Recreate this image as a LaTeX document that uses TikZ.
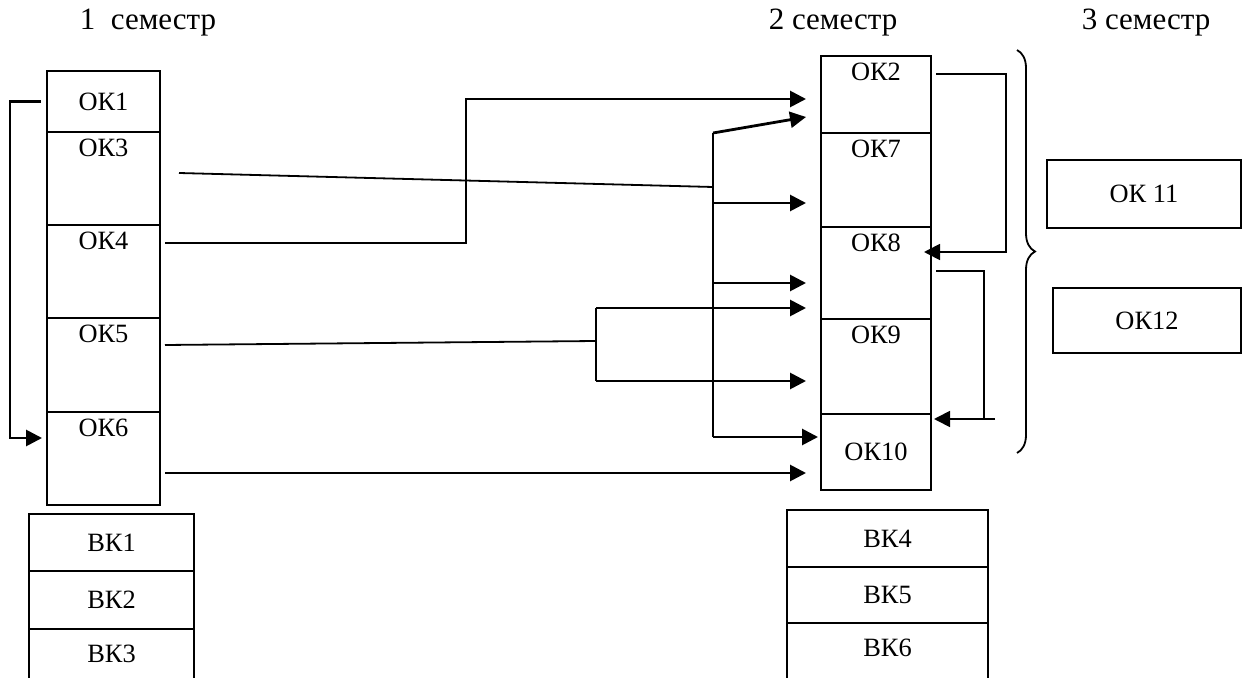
\documentclass[tikz,border=0pt]{standalone}
\usepackage{fontspec}
\setmainfont{Liberation Serif}
\usetikzlibrary{arrows.meta, positioning, fit, decorations.pathreplacing}
\tikzset {
    x=0.5pt, y=-0.5pt,
    >={Triangle[length=8pt, width=8pt]},
    box/.style={draw, line width=1.3pt, inner sep=0pt},
    boxfont/.style={font=\fontsize{13.2}{15}\selectfont},
    toptext/.style={label={[boxfont, anchor=base, yshift=-12.8pt]north:#1}},
    lowtext/.style={label={[boxfont, anchor=base, yshift=-17.5pt]north:#1}},
    midtext/.style={label={[boxfont]center:#1}},
    sem/.style={anchor=base, font=\fontsize{15.5}{18}\selectfont},
    link/.style={line width=1.4pt},
    thinlink/.style={line width=0.9pt}
}

\begin{document}
\begin{tikzpicture}
    \useasboundingbox (0,0) rectangle (1242,678);

    % semesters
    \node[sem] (s1) at (148,30) {1\ \ семестр};
    \node[sem] (s2) at (833,30) {2 семестр};
    \node[sem] (s3) at (1146,30) {3 семестр};

    % 1 semester
    \node[box, midtext=ОК1, fit={(47,71) (160,132)}] (ok1) {};
    \node[box, toptext=ОК3, fit={(47,132) (160,225)}] (ok3) {};
    \node[box, toptext=ОК4, fit={(47,225) (160,318)}] (ok4) {};
    \node[box, toptext=ОК5, fit={(47,318) (160,412)}] (ok5) {};
    \node[box, toptext=ОК6, fit={(47,412) (160,505)}] (ok6) {};
    \node[box, midtext=ВК1, fit={(29,514) (194,571)}] (bk1) {};
    \node[box, midtext=ВК2, fit={(29,571) (194,629)}] (bk2) {};
    \node[box, lowtext=ВК3, fit={(29,629) (194,690)}] (bk3) {};

    % 2 semester
    \node[box, toptext=ОК2, fit={(821,56) (931,133)}] (ok2) {};
    \node[box, toptext=ОК7, fit={(821,133) (931,227)}] (ok7) {};
    \node[box, toptext=ОК8, fit={(821,227) (931,319)}] (ok8) {};
    \node[box, toptext=ОК9, fit={(821,319) (931,414)}] (ok9) {};
    \node[box, midtext=ОК10, fit={(821,414) (931,490)}] (ok10) {};
    \node[box, midtext=ВК4, fit={(787,510) (988,567)}] (bk4) {};
    \node[box, midtext=ВК5, fit={(787,567) (988,623)}] (bk5) {};
    \node[box, lowtext=ВК6, fit={(787,623) (988,690)}] (bk6) {};

    % 3 semester
    \node[box, midtext=ОК 11, fit={(1047,160) (1241,228)}] (ok11) {};
    \node[box, midtext=ОК12, fit={(1053,288) (1241,353)}] (ok12) {};

    \coordinate (tr) at (713,133);
    \coordinate (fk) at (596,308);

    \draw[link, ->] ([xshift=-2.5pt]ok1.west) -| (10,438) -- (42,438);
    \draw[thinlink] (179,173) -- (713,187);
    \draw[link, ->] (165,243) -| (466,99) -- (806,99);
    \draw[thinlink] (165,345) -- (596,341);
    \draw[link, ->] (165,473) -- (806,473);

    \draw[link] (tr) -- (713,437);
    \draw[link, ->] (tr) -- (806,117);
    \draw[link, ->] (713,203) -- (806,203);
    \draw[link, ->] (713,283) -- (806,283);
    \draw[link, ->] (713,437) -- (818,437);

    \draw[link] (fk) -- (596,381);
    \draw[link, ->] (fk) -- (806,308);
    \draw[link, ->] (596,381) -- (806,381);

    \draw[thinlink, ->] (936,74) -| (1006,252) -- (924,252);
    \draw[thinlink] (936,271) -| (984,419);
    \draw[thinlink, ->] (995,419) -- (934,419);

    \draw[thinlink, decorate, decoration={brace, amplitude=9pt}] (1017,50) -- (1017,453);
\end{tikzpicture}
\end{document}
